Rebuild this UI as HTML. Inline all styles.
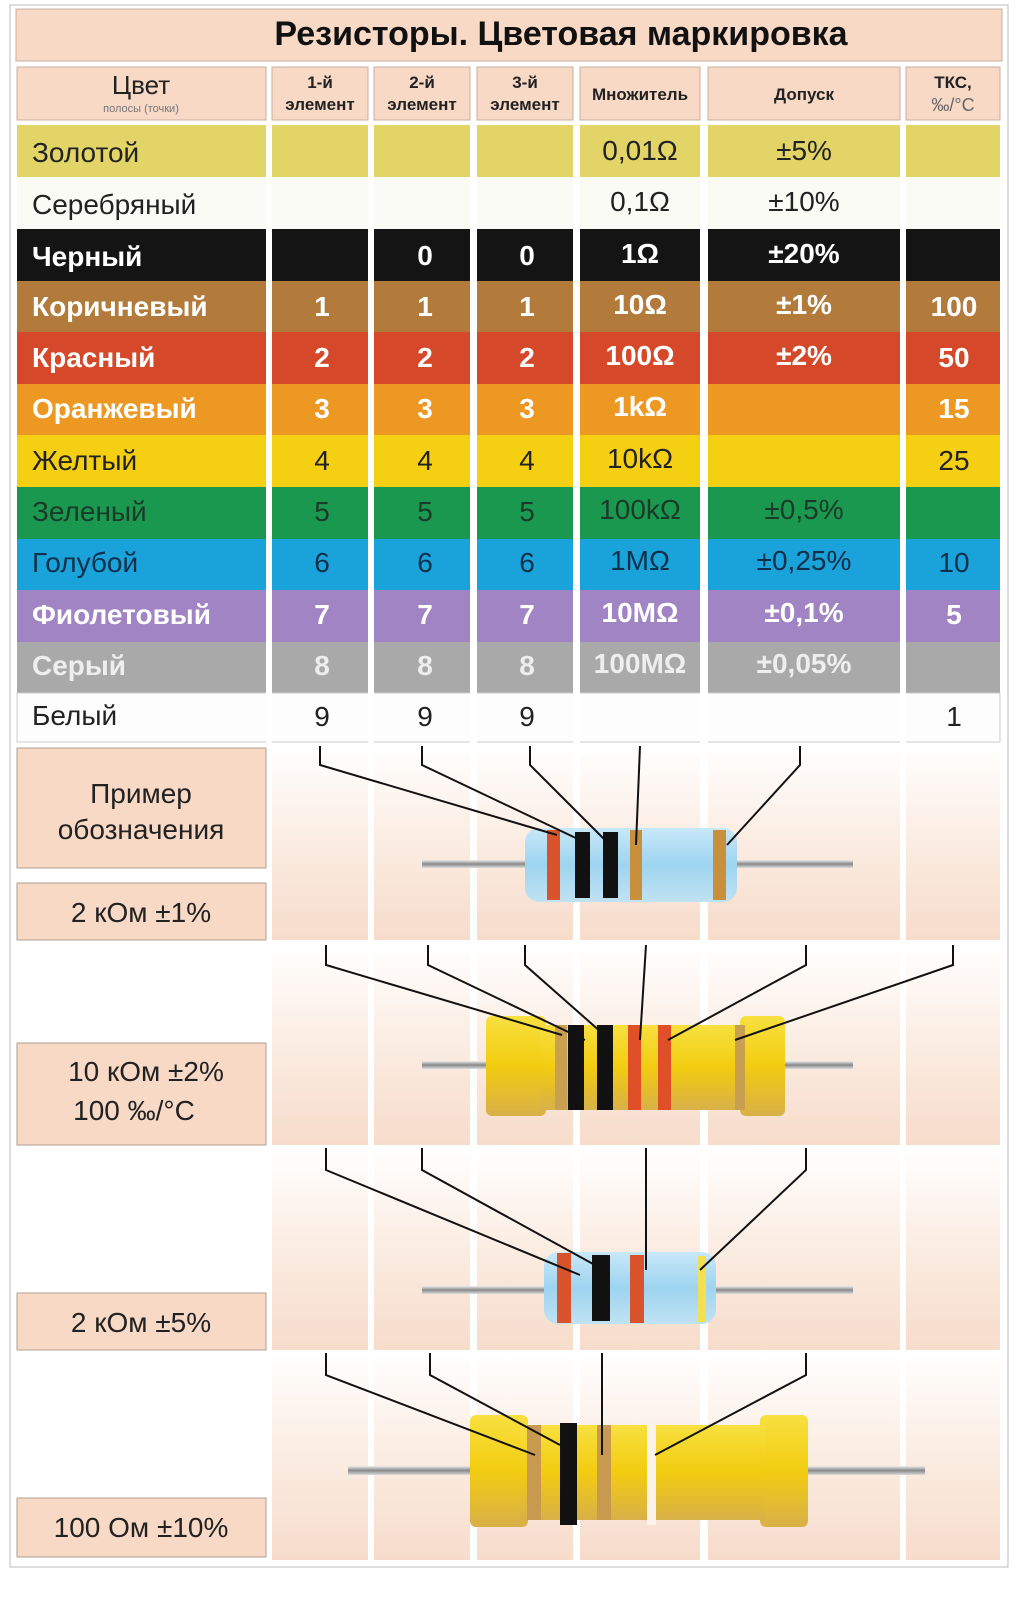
<!DOCTYPE html>
<html><head><meta charset="utf-8"><style>
body{margin:0;background:#fff}
svg{display:block}
text{font-family:"Liberation Sans",sans-serif}
</style></head><body>
<svg width="1030" height="1597" viewBox="0 0 1030 1597" xmlns="http://www.w3.org/2000/svg">
<defs>
<linearGradient id="pg" x1="0" y1="0" x2="0" y2="1"><stop offset="0" stop-color="#fff"/><stop offset="0.45" stop-color="#fbeee4"/><stop offset="1" stop-color="#f7dccb"/></linearGradient>
<linearGradient id="bl" x1="0" y1="0" x2="0" y2="1"><stop offset="0" stop-color="#c8e8f8"/><stop offset="0.5" stop-color="#9ed4f0"/><stop offset="1" stop-color="#c0e2f2"/></linearGradient>
<linearGradient id="ye" x1="0" y1="0" x2="0" y2="1"><stop offset="0" stop-color="#f8e040"/><stop offset="0.5" stop-color="#f2cc10"/><stop offset="1" stop-color="#d8b048"/></linearGradient>
<linearGradient id="ld" x1="0" y1="0" x2="0" y2="1"><stop offset="0" stop-color="#eee"/><stop offset="0.5" stop-color="#888"/><stop offset="1" stop-color="#ddd"/></linearGradient>
</defs>
<rect x="10" y="5" width="998" height="1562" fill="none" stroke="#bbb" stroke-width="1"/>
<rect x="16" y="9" width="986" height="52" fill="#f7d9c6" stroke="#c8b0a0"/>
<text x="561" y="45" font-size="34" font-weight="bold" text-anchor="middle" fill="#111">Резисторы. Цветовая маркировка</text>
<g fill="#f7d9c6" stroke="#c8b0a0">
<rect x="17" y="67" width="249" height="53"/><rect x="272" y="67" width="96" height="53"/><rect x="374" y="67" width="96" height="53"/><rect x="477" y="67" width="96" height="53"/><rect x="580" y="67" width="120" height="53"/><rect x="708" y="67" width="192" height="53"/><rect x="906" y="67" width="94" height="53"/>
</g>
<text x="141" y="94" font-size="26" text-anchor="middle" fill="#222">Цвет</text>
<text x="141" y="112" font-size="11" text-anchor="middle" fill="#777">полосы (точки)</text>
<g font-size="17" font-weight="bold" text-anchor="middle" fill="#222">
<text x="320" y="88">1-й</text><text x="320" y="110">элемент</text>
<text x="422" y="88">2-й</text><text x="422" y="110">элемент</text>
<text x="525" y="88">3-й</text><text x="525" y="110">элемент</text>
<text x="640" y="100">Множитель</text>
<text x="804" y="100">Допуск</text>
<text x="953" y="88">ТКС,</text>
</g>
<text x="953" y="111" font-size="18" text-anchor="middle" fill="#666">‰/°C</text>
<g>
<g>
<rect x="17" y="125" width="983" height="52" fill="#e2d466"/>
<rect x="17" y="177" width="983" height="52" fill="#fbfbf6"/>
<rect x="17" y="229" width="983" height="52" fill="#141414"/>
<rect x="17" y="281" width="983" height="51" fill="#b27b3c"/>
<rect x="17" y="332" width="983" height="52" fill="#d6482a"/>
<rect x="17" y="384" width="983" height="51" fill="#ec9822"/>
<rect x="17" y="435" width="983" height="52" fill="#f4cf12"/>
<rect x="17" y="487" width="983" height="52" fill="#1a9850"/>
<rect x="17" y="539" width="983" height="51" fill="#1aa2da"/>
<rect x="17" y="590" width="983" height="52" fill="#a184c4"/>
<rect x="17" y="642" width="983" height="51" fill="#a9a9a9"/>
<rect x="17" y="693" width="983" height="49" fill="#fdfdfd" stroke="#ccc"/>
</g>
<g fill="#fff">
<rect x="266" y="122" width="6" height="622"/><rect x="368" y="122" width="6" height="622"/><rect x="470" y="122" width="7" height="622"/><rect x="573" y="122" width="7" height="622"/><rect x="700" y="122" width="8" height="622"/><rect x="900" y="122" width="6" height="622"/>
</g>
<g font-size="28">
<text x="32" y="162" fill="#222">Золотой</text>
<text x="32" y="214" fill="#222">Серебряный</text>
<text x="32" y="266" fill="#fff" font-weight="bold">Черный</text>
<text x="32" y="316" fill="#fff" font-weight="bold">Коричневый</text>
<text x="32" y="367" fill="#fff" font-weight="bold">Красный</text>
<text x="32" y="418" fill="#fff" font-weight="bold">Оранжевый</text>
<text x="32" y="470" fill="#222">Желтый</text>
<text x="32" y="521" fill="#1a3a28">Зеленый</text>
<text x="32" y="572" fill="#10304a">Голубой</text>
<text x="32" y="624" fill="#fff" font-weight="bold">Фиолетовый</text>
<text x="32" y="675" fill="#eee" font-weight="bold">Серый</text>
<text x="32" y="725" fill="#222">Белый</text>
</g>
<g font-size="28" text-anchor="middle">
<text x="640" y="160" fill="#222">0,01Ω</text><text x="804" y="160" fill="#222">±5%</text>
<text x="640" y="211" fill="#222">0,1Ω</text><text x="804" y="211" fill="#222">±10%</text>
<g fill="#fff" font-weight="bold"><text x="425" y="265">0</text><text x="527" y="265">0</text><text x="640" y="263">1Ω</text><text x="804" y="263">±20%</text></g>
<g fill="#fff" font-weight="bold"><text x="322" y="316">1</text><text x="425" y="316">1</text><text x="527" y="316">1</text><text x="640" y="314">10Ω</text><text x="804" y="314">±1%</text><text x="954" y="316">100</text></g>
<g fill="#fff" font-weight="bold"><text x="322" y="367">2</text><text x="425" y="367">2</text><text x="527" y="367">2</text><text x="640" y="365">100Ω</text><text x="804" y="365">±2%</text><text x="954" y="367">50</text></g>
<g fill="#fff" font-weight="bold"><text x="322" y="418">3</text><text x="425" y="418">3</text><text x="527" y="418">3</text><text x="640" y="416">1kΩ</text><text x="954" y="418">15</text></g>
<g fill="#222"><text x="322" y="470">4</text><text x="425" y="470">4</text><text x="527" y="470">4</text><text x="640" y="468">10kΩ</text><text x="954" y="470">25</text></g>
<g fill="#1a3a28"><text x="322" y="521">5</text><text x="425" y="521">5</text><text x="527" y="521">5</text><text x="640" y="519">100kΩ</text><text x="804" y="519">±0,5%</text></g>
<g fill="#10304a"><text x="322" y="572">6</text><text x="425" y="572">6</text><text x="527" y="572">6</text><text x="640" y="570">1MΩ</text><text x="804" y="570">±0,25%</text><text x="954" y="572">10</text></g>
<g fill="#fff" font-weight="bold"><text x="322" y="624">7</text><text x="425" y="624">7</text><text x="527" y="624">7</text><text x="640" y="622">10MΩ</text><text x="804" y="622">±0,1%</text><text x="954" y="624">5</text></g>
<g fill="#eee" font-weight="bold"><text x="322" y="675">8</text><text x="425" y="675">8</text><text x="527" y="675">8</text><text x="640" y="673">100MΩ</text><text x="804" y="673">±0,05%</text></g>
<g fill="#222"><text x="322" y="726">9</text><text x="425" y="726">9</text><text x="527" y="726">9</text><text x="954" y="726">1</text></g>
</g>
</g>
<g fill="url(#pg)">
<rect x="272" y="746" width="96" height="194"/><rect x="374" y="746" width="96" height="194"/><rect x="477" y="746" width="96" height="194"/><rect x="580" y="746" width="120" height="194"/><rect x="708" y="746" width="192" height="194"/><rect x="906" y="746" width="94" height="194"/>
<rect x="272" y="945" width="96" height="200"/><rect x="374" y="945" width="96" height="200"/><rect x="477" y="945" width="96" height="200"/><rect x="580" y="945" width="120" height="200"/><rect x="708" y="945" width="192" height="200"/><rect x="906" y="945" width="94" height="200"/>
<rect x="272" y="1148" width="96" height="202"/><rect x="374" y="1148" width="96" height="202"/><rect x="477" y="1148" width="96" height="202"/><rect x="580" y="1148" width="120" height="202"/><rect x="708" y="1148" width="192" height="202"/><rect x="906" y="1148" width="94" height="202"/>
<rect x="272" y="1353" width="96" height="207"/><rect x="374" y="1353" width="96" height="207"/><rect x="477" y="1353" width="96" height="207"/><rect x="580" y="1353" width="120" height="207"/><rect x="708" y="1353" width="192" height="207"/><rect x="906" y="1353" width="94" height="207"/>
</g>
<g fill="#f7d9c6" stroke="#b0a090">
<rect x="17" y="748" width="249" height="120"/>
<rect x="17" y="883" width="249" height="57"/>
<rect x="17" y="1043" width="249" height="102"/>
<rect x="17" y="1293" width="249" height="57"/>
<rect x="17" y="1498" width="249" height="59"/>
</g>
<g font-size="28" fill="#222" text-anchor="middle">
<text x="141" y="803">Пример</text><text x="141" y="839">обозначения</text>
<text x="141" y="922">2 кОм ±1%</text>
<text x="146" y="1081">10 кОм ±2%</text><text x="134" y="1120">100 ‰/°C</text>
<text x="141" y="1332">2 кОм ±5%</text>
<text x="141" y="1537">100 Ом ±10%</text>
</g>
<rect x="422" y="860" width="110" height="8" fill="url(#ld)"/><rect x="730" y="860" width="123" height="8" fill="url(#ld)"/>
<rect x="525" y="828" width="212" height="74" rx="14" fill="url(#bl)"/>
<rect x="547" y="830" width="13" height="70" fill="#d9542c"/>
<rect x="575" y="832" width="15" height="66" fill="#111"/>
<rect x="603" y="832" width="15" height="66" fill="#111"/>
<rect x="630" y="830" width="12" height="70" fill="#c8903c"/>
<rect x="713" y="830" width="13" height="70" fill="#c8903c"/>
<g stroke="#111" stroke-width="2" fill="none">
<polyline points="320,746 320,765 557,835"/>
<polyline points="422,746 422,765 580,840"/>
<polyline points="530,746 530,765 605,840"/>
<polyline points="640,746 636,845"/>
<polyline points="800,746 800,765 727,845"/>
</g>
<rect x="422" y="1061" width="70" height="8" fill="url(#ld)"/><rect x="780" y="1061" width="73" height="8" fill="url(#ld)"/>
<rect x="486" y="1016" width="60" height="100" rx="6" fill="url(#ye)"/>
<rect x="740" y="1016" width="45" height="100" rx="6" fill="url(#ye)"/>
<rect x="540" y="1025" width="205" height="85" fill="url(#ye)"/>
<rect x="555" y="1025" width="12" height="85" fill="#c8a050"/>
<rect x="568" y="1025" width="16" height="85" fill="#111"/>
<rect x="597" y="1025" width="16" height="85" fill="#111"/>
<rect x="628" y="1025" width="13" height="85" fill="#e05028"/>
<rect x="658" y="1025" width="13" height="85" fill="#e05028"/>
<rect x="735" y="1025" width="10" height="85" fill="#c8a050"/>
<g stroke="#111" stroke-width="2" fill="none">
<polyline points="326,945 326,965 562,1035"/>
<polyline points="428,945 428,965 585,1040"/>
<polyline points="525,945 525,965 610,1040"/>
<polyline points="646,945 640,1040"/>
<polyline points="806,945 806,965 668,1040"/>
<polyline points="953,945 953,965 735,1040"/>
</g>
<rect x="422" y="1286" width="130" height="8" fill="url(#ld)"/><rect x="708" y="1286" width="145" height="8" fill="url(#ld)"/>
<rect x="544" y="1252" width="172" height="72" rx="14" fill="url(#bl)"/>
<rect x="557" y="1253" width="14" height="70" fill="#d9542c"/>
<rect x="592" y="1255" width="18" height="66" fill="#111"/>
<rect x="630" y="1255" width="14" height="68" fill="#d9542c"/>
<rect x="698" y="1256" width="8" height="66" fill="#f2e050"/>
<g stroke="#111" stroke-width="2" fill="none">
<polyline points="326,1148 326,1170 580,1275"/>
<polyline points="422,1148 422,1170 604,1270"/>
<polyline points="646,1148 646,1270"/>
<polyline points="806,1148 806,1170 700,1270"/>
</g>
<rect x="348" y="1466" width="125" height="9" fill="url(#ld)"/><rect x="805" y="1466" width="120" height="9" fill="url(#ld)"/>
<rect x="470" y="1415" width="58" height="112" rx="6" fill="url(#ye)"/>
<rect x="760" y="1415" width="48" height="112" rx="6" fill="url(#ye)"/>
<rect x="520" y="1425" width="245" height="95" fill="url(#ye)"/>
<rect x="527" y="1425" width="14" height="95" fill="#c89a50"/>
<rect x="560" y="1423" width="17" height="102" fill="#111"/>
<rect x="597" y="1425" width="14" height="95" fill="#c89a50"/>
<rect x="647" y="1420" width="9" height="105" fill="#fbf3ea"/>
<g stroke="#111" stroke-width="2" fill="none">
<polyline points="326,1353 326,1375 535,1455"/>
<polyline points="430,1353 430,1375 560,1445"/>
<polyline points="602,1353 602,1455"/>
<polyline points="806,1353 806,1375 655,1455"/>
</g>
</svg>
</body></html>
